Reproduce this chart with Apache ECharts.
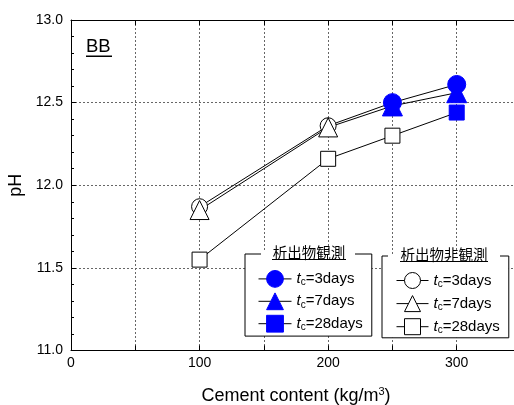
<!DOCTYPE html>
<html><head><meta charset="utf-8">
<script src="https://cdn.jsdelivr.net/npm/echarts@6/dist/echarts.min.js"></script>
<style>html,body{margin:0;padding:0;background:#fff}#c{width:514px;height:405px}</style>
</head><body><div id="c"></div>
<script>
// ---- data ----
const cement = [100, 200, 250, 300];
const ph3 = [11.87, 12.36, 12.50, 12.61];
const ph7 = [11.85, 12.35, 12.48, 12.56];
const ph28 = [11.55, 12.16, 12.30, 12.44];
// precipitate observed (filled marker) or not (open marker)
const obs3 = [false, false, true, true];
const obs7 = [false, false, true, true];
const obs28 = [false, false, false, true];
const ageLabels = ['3days', '7days', '28days'];
const xTicks = [0, 100, 200, 300];
const yTicks = [11.0, 11.5, 12.0, 12.5, 13.0];
const groupTitles = ['析出物観測', '析出物非観測'];

const FONT = '"Liberation Sans", Arial, sans-serif';
const CJK = '"Noto Sans CJK JP", sans-serif';

function pairs(vals) { return cement.map((x, i) => [x, vals[i]]); }
function subset(vals, mask, want) {
  return cement.map((x, i) => [x, vals[i], mask[i]]).filter(d => d[2] === want).map(d => [d[0], d[1]]);
}

const connectors = [ph3, ph7, ph28].map(v => ({
  type: 'line', data: pairs(v), symbol: 'none', silent: true, z: 2,
  lineStyle: { color: '#000', width: 1 }, emphasis: { disabled: true }
}));

function marker(name, vals, mask, want, symbol, size) {
  const filled = want;
  return {
    name, type: 'line', data: subset(vals, mask, want), symbol, symbolSize: size,
    showSymbol: true, showAllSymbol: true, z: 3,
    itemStyle: filled ? { color: '#0000ff', borderColor: '#0000ff', borderWidth: 1, opacity: 1 }
                      : { color: '#ffffff', borderColor: '#000000', borderWidth: 1, opacity: 1 },
    lineStyle: { color: '#000', width: 1, opacity: 0 },
    emphasis: { disabled: true }
  };
}

const markers = [
  marker('non3', ph3, obs3, false, 'circle', 16),
  marker('non7', ph7, obs7, false, 'triangle', 19),
  marker('non28', ph28, obs28, false, 'rect', 15),
  marker('obs28', ph28, obs28, true, 'rect', 15),
  marker('obs7', ph7, obs7, true, 'triangle', 20),
  marker('obs3', ph3, obs3, true, 'circle', 18)
];

const labelOf = { obs3: 0, obs7: 1, obs28: 2, non3: 0, non7: 1, non28: 2 };
const rich = {
  t: { fontStyle: 'italic', fontSize: 15, fontFamily: FONT, color: '#000', lineHeight: 16 },
  c: { fontSize: 10, fontFamily: FONT, color: '#000', lineHeight: 10, padding: [7, 0, 0, 0] },
  n: { fontSize: 15, fontFamily: FONT, color: '#000', lineHeight: 16 }
};
function legendFmt(name) { return '{t|t}{c|c}{n|=' + ageLabels[labelOf[name]] + '}'; }

function legendBox(data, left, top, iw, ih, gap, pad) {
  return {
    data, left, top, z: 4, orient: 'vertical', itemWidth: iw, itemHeight: ih, itemGap: gap,
    padding: pad, borderColor: '#000', borderWidth: 1, backgroundColor: '#fff',
    selectedMode: false, formatter: legendFmt, textStyle: { rich, color: '#000' },
    lineStyle: { color: '#000', width: 1, opacity: 1 },
    itemStyle: { borderWidth: 1 }
  };
}

const chart = echarts.init(document.getElementById('c'), null, { renderer: 'canvas' });
chart.setOption({
  animation: false,
  backgroundColor: '#fff',
  grid: { left: 71, top: 20, width: 450, height: 330.5, containLabel: false, outerBoundsMode: 'none' },
  xAxis: [{
    type: 'value', min: 0, max: 350, interval: 50, position: 'bottom',
    name: '{a|Cement content (kg/m}{s|3}{a|)}', nameLocation: 'middle', nameGap: 36,
    nameTextStyle: { rich: {
      a: { fontSize: 18, fontFamily: FONT, color: '#000', lineHeight: 20 },
      s: { fontSize: 11, fontFamily: FONT, color: '#000', lineHeight: 11, verticalAlign: 'top' }
    } },
    axisLine: { show: true, onZero: false, lineStyle: { color: '#000', width: 1 } },
    axisTick: { show: true, inside: true, length: 5, lineStyle: { color: '#000' } },
    axisLabel: { interval: 1, margin: 6, fontSize: 14, fontFamily: FONT, color: '#000',
      formatter: v => (xTicks.indexOf(v) >= 0 ? String(v) : '') },
    splitLine: { show: true, lineStyle: { color: '#666', width: 1, type: [2, 2] } }
  }, {
    type: 'value', min: 0, max: 350, interval: 50, position: 'top',
    axisLine: { show: true, onZero: false, lineStyle: { color: '#000', width: 1 } },
    axisTick: { show: true, inside: true, length: 5, lineStyle: { color: '#000' } },
    axisLabel: { show: false }, splitLine: { show: false }
  }],
  yAxis: [{
    type: 'value', min: 11, max: 13, interval: 0.5,
    name: 'pH', nameLocation: 'middle', nameGap: 42, nameRotate: 90,
    nameTextStyle: { fontSize: 18, fontFamily: FONT, color: '#000' },
    axisLine: { show: true, onZero: false, lineStyle: { color: '#000', width: 1 } },
    axisTick: { show: true, inside: true, length: 5, lineStyle: { color: '#000' } },
    minorTick: { show: true, splitNumber: 5, length: 3, lineStyle: { color: '#000' } },
    axisLabel: { margin: 8, fontSize: 14, fontFamily: FONT, color: '#000',
      formatter: v => { const t = yTicks.find(y => Math.abs(y - v) < 1e-9); return t === undefined ? '' : t.toFixed(1); } },
    splitLine: { show: true, lineStyle: { color: '#666', width: 1, type: [2, 2] } }
  }],
  legend: [
    legendBox(['obs3', 'obs7', 'obs28'], 245, 254, 33, 21, 4.6, [16, 9, 3.5, 13]),
    legendBox(['non3', 'non7', 'non28'], 382, 256, 32, 20, 6.1, [16, 9, 2.6, 14])
  ],
  graphic: [
    { type: 'rect', zlevel: 1, z: 1, shape: { x: 261, y: 252, width: 94, height: 4 }, style: { fill: '#fff' } },
    { type: 'rect', zlevel: 1, z: 1, shape: { x: 388, y: 254, width: 112, height: 4 }, style: { fill: '#fff' } },
    { type: 'text', zlevel: 1, z: 2, x: 86, y: 46.5, style: { text: 'BB', font: '18.5px ' + FONT, fill: '#000', verticalAlign: 'middle', align: 'left' } },
    { type: 'text', zlevel: 1, z: 2, x: 309, y: 252, style: { text: groupTitles[0], font: '14.5px ' + CJK, fill: '#000', align: 'center', verticalAlign: 'middle' } },
    { type: 'text', zlevel: 1, z: 2, x: 444, y: 254, style: { text: groupTitles[1], font: '14.5px ' + CJK, fill: '#000', align: 'center', verticalAlign: 'middle' } },
    { type: 'rect', zlevel: 1, z: 3, shape: { x: 86, y: 55.5, width: 26, height: 1.5 }, style: { fill: '#000' } },
    { type: 'rect', zlevel: 1, z: 3, shape: { x: 272, y: 259, width: 74, height: 1 }, style: { fill: '#000' } },
    { type: 'rect', zlevel: 1, z: 3, shape: { x: 400, y: 261, width: 88, height: 1 }, style: { fill: '#000' } }
  ],
  series: connectors.concat(markers)
});
</script></body></html>
